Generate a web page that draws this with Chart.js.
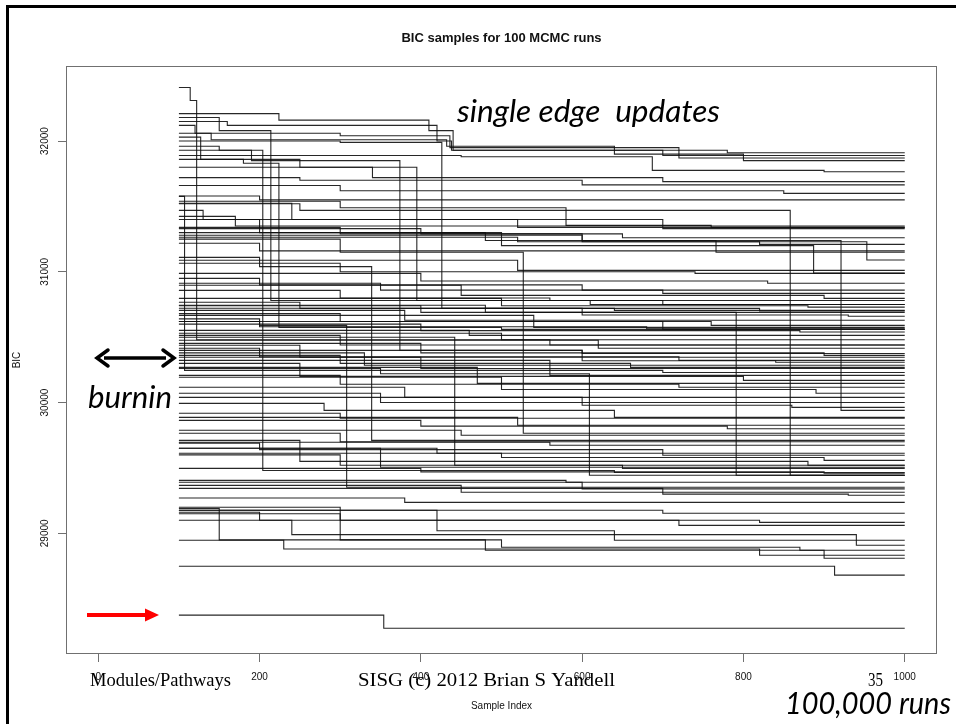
<!DOCTYPE html>
<html>
<head>
<meta charset="utf-8">
<title>BIC samples for 100 MCMC runs</title>
<script src="https://cdn.jsdelivr.net/npm/chart.js@4.4.1/dist/chart.umd.min.js"></script>
<style>
  html, body { margin: 0; padding: 0; background: #fff; }
  canvas { display: block; }
</style>
</head>
<body>
<canvas id="bic" width="956" height="724"></canvas>
<script>
// axis ticks
var xTicks = [0, 200, 400, 600, 800, 1000];
var yTicks = [29000, 30000, 31000, 32000];
var lastSample = 1000;

// one entry per MCMC run: [sample index, BIC] where the chain moves to a new level
var runs = [
  [[100, 32410], [114, 32310], [122, 30480], [560, 30440]],
  [[100, 32210], [224, 32160], [410, 32080], [440, 31930], [780, 31910]],
  [[100, 32180], [150, 32080], [214, 30780], [610, 30750]],
  [[100, 32150], [160, 32120], [420, 32000], [438, 31930], [700, 31890]],
  [[100, 32120], [120, 32060], [300, 32040], [436, 31950], [720, 31870]],
  [[100, 32060], [140, 32010], [432, 31960], [640, 31900], [800, 31850]],
  [[100, 32030], [127, 31860], [250, 31800], [395, 30780], [700, 30750]],
  [[100, 31930], [190, 31850], [374, 30400], [600, 30375]],
  [[100, 32000], [300, 31990], [426, 30720], [820, 30700]],
  [[100, 31860], [180, 31830], [224, 30575], [500, 30560]],
  [[100, 31960], [150, 31930], [204, 29480], [640, 29465]],
  [[100, 31890], [450, 31880], [687, 31776], [900, 31765]],
  [[100, 31800], [340, 31720], [700, 31690]],
  [[100, 31720], [250, 31700], [600, 31665]],
  [[100, 31660], [300, 31620], [850, 31600]],
  [[100, 31580], [200, 31550]],
  [[100, 31540], [300, 31490], [580, 31355], [760, 31340]],
  [[100, 31520], [250, 31470], [858, 29444]],
  [[100, 31524], [240, 31400], [520, 31340]],
  [[100, 31470], [130, 31400], [700, 31330]],
  [[100, 31424], [170, 31350]],
  [[100, 31400], [200, 31300], [480, 31240], [921, 29940]],
  [[100, 31330], [400, 31290], [600, 31240], [766, 31150]],
  [[100, 31300], [500, 31200], [887, 30990]],
  [[100, 31280], [600, 31230], [953, 31090]],
  [[100, 31250], [300, 31150], [527, 29765]],
  [[100, 31340], [300, 31290], [650, 31260]],
  [[100, 31264], [520, 31230], [820, 31210]],
  [[100, 31218], [200, 31160]],
  [[100, 31577], [107, 30246], [700, 30230]],
  [[100, 31110], [200, 31040], [339, 29711]],
  [[100, 30620], [200, 30590], [308, 29352]],
  [[100, 30500], [442, 29520]],
  [[100, 30260], [350, 30220], [609, 29444]],
  [[100, 30740], [400, 30690], [791, 29444]],
  [[100, 31088], [520, 31011]],
  [[100, 31065], [300, 31000], [740, 30988]],
  [[100, 30988], [400, 30930], [830, 30912]],
  [[100, 30950], [200, 30900], [600, 30860]],
  [[100, 30912], [350, 30860], [700, 30835]],
  [[100, 30897], [450, 30820], [900, 30797]],
  [[100, 30858], [300, 30800], [560, 30780]],
  [[100, 30797], [500, 30740], [880, 30730]],
  [[100, 30767], [250, 30720], [640, 30705]],
  [[100, 30744], [480, 30690]],
  [[100, 30721], [600, 30670], [930, 30660]],
  [[100, 30705], [380, 30630]],
  [[100, 30680], [300, 30620], [760, 30590]],
  [[100, 30667], [540, 30575]],
  [[100, 30640], [200, 30580], [680, 30565]],
  [[100, 30620], [700, 30560]],
  [[100, 30600], [400, 30550], [870, 30540]],
  [[100, 30552], [460, 30514]],
  [[100, 30530], [500, 30480]],
  [[100, 30514], [300, 30440]],
  [[100, 30476], [620, 30415]],
  [[100, 30453], [400, 30380], [900, 30361]],
  [[100, 30438], [250, 30346]],
  [[100, 30415], [200, 30350], [720, 30323]],
  [[100, 30399], [600, 30320], [840, 30308]],
  [[100, 30380], [330, 30285]],
  [[100, 30361], [300, 30300], [660, 30269]],
  [[100, 30346], [400, 30260]],
  [[100, 30323], [560, 30208]],
  [[100, 30300], [250, 30200], [800, 30170]],
  [[100, 30269], [470, 30147]],
  [[100, 30208], [300, 30140], [720, 30117]],
  [[100, 30193], [500, 30100], [890, 30071]],
  [[100, 30117], [380, 30040]],
  [[100, 30071], [350, 30000]],
  [[100, 30040], [600, 29980], [860, 29963]],
  [[100, 29994], [280, 29940], [640, 29887]],
  [[100, 29918], [300, 29880]],
  [[100, 29887], [520, 29826]],
  [[100, 29864], [400, 29820], [780, 29800]],
  [[100, 29788], [450, 29750]],
  [[100, 29765], [300, 29700]],
  [[100, 29696], [560, 29673]],
  [[100, 29650], [420, 29612]],
  [[100, 29612], [500, 29580], [900, 29558]],
  [[100, 29690], [200, 29640], [700, 29597]],
  [[100, 29711], [250, 29550], [880, 29520]],
  [[100, 29650], [350, 29505]],
  [[100, 29600], [300, 29520], [650, 29497]],
  [[100, 29497], [400, 29470], [900, 29459]],
  [[100, 29405], [580, 29390]],
  [[100, 29390], [600, 29340]],
  [[100, 29367], [450, 29314]],
  [[100, 29344], [700, 29300], [930, 29291]],
  [[100, 29270], [380, 29237]],
  [[100, 29176], [700, 29153]],
  [[100, 29161], [200, 29100], [820, 29084]],
  [[100, 29199], [300, 29100], [720, 29061]],
  [[100, 29176], [420, 29020], [640, 28947]],
  [[100, 29100], [240, 28990], [940, 28909]],
  [[100, 29150], [300, 28950], [500, 28893], [870, 28870]],
  [[100, 28947], [230, 28880], [820, 28832]],
  [[100, 29190], [150, 28950], [480, 28870], [900, 28809]],
  [[100, 28748], [913, 28680]],
  [[100, 28374], [354, 28274]]
];

var datasets = runs.map(function (run) {
  var pts = run.map(function (p) { return { x: p[0], y: p[1] }; });
  // hold the last level out to the final sample
  pts.push({ x: lastSample, y: run[run.length - 1][1] });
  return {
    data: pts,
    stepped: true,
    borderColor: 'rgba(15,15,15,0.9)',
    borderWidth: 1.1,
    pointRadius: 0,
    fill: false
  };
});

function arrowHead(ctx, x, y, dir, len, half) {
  ctx.beginPath();
  ctx.moveTo(x, y);
  ctx.lineTo(x - dir * len, y - half);
  ctx.lineTo(x - dir * len, y + half);
  ctx.closePath();
  ctx.fill();
}

// text squeezed or stretched to a given width
function fitText(ctx, str, x, y, width) {
  var w = ctx.measureText(str).width;
  ctx.save();
  ctx.translate(x, y);
  ctx.scale(width / w, 1);
  ctx.fillText(str, 0, 0);
  ctx.restore();
}

var slideDecor = {
  id: 'slideDecor',
  beforeDraw: function (chart) {
    var ctx = chart.ctx;
    ctx.save();
    ctx.fillStyle = '#fff';
    ctx.fillRect(0, 0, chart.width, chart.height);
    // slide frame
    ctx.fillStyle = '#000';
    ctx.fillRect(6, 5, chart.width - 6, 3);
    ctx.fillRect(6, 5, 3, chart.height - 5);
    ctx.restore();
  },
  afterDraw: function (chart) {
    var ctx = chart.ctx;
    var a = chart.chartArea;
    var xs = chart.scales.x, ys = chart.scales.y;
    ctx.save();

    // plot box
    ctx.strokeStyle = '#707070';
    ctx.lineWidth = 1;
    ctx.strokeRect(Math.round(a.left) + 0.5, Math.round(a.top) + 0.5,
      Math.round(a.right - a.left) - 1, Math.round(a.bottom - a.top) - 1);

    // tick labels
    ctx.fillStyle = '#111';
    ctx.font = '10px "Liberation Sans", Arial, sans-serif';
    ctx.textAlign = 'center';
    ctx.textBaseline = 'middle';
    xTicks.forEach(function (v) {
      ctx.fillText(String(v), xs.getPixelForValue(v), 677);
    });
    yTicks.forEach(function (v) {
      ctx.save();
      ctx.translate(45, ys.getPixelForValue(v));
      ctx.rotate(-Math.PI / 2);
      ctx.fillText(String(v), 0, 0);
      ctx.restore();
    });

    // axis titles and main title
    ctx.fillText('Sample Index', (a.left + a.right) / 2, 706);
    ctx.save();
    ctx.translate(17, (a.top + a.bottom) / 2);
    ctx.rotate(-Math.PI / 2);
    ctx.fillText('BIC', 0, 0);
    ctx.restore();
    ctx.font = 'bold 13px "Liberation Sans", Arial, sans-serif';
    ctx.fillText('BIC samples for 100 MCMC runs', (a.left + a.right) / 2, 38);

    // slide annotations
    ctx.fillStyle = '#000';
    ctx.textAlign = 'left';
    ctx.textBaseline = 'alphabetic';
    ctx.font = 'italic 30px Lato, "Open Sans", sans-serif';
    fitText(ctx, 'single edge  updates', 457, 122, 263);
    fitText(ctx, 'burnin', 88, 408, 84);
    fitText(ctx, '100,000 runs', 785, 714, 166);

    ctx.font = '18px "Liberation Serif", "Times New Roman", serif';
    fitText(ctx, 'Modules/Pathways', 90, 686, 141);
    fitText(ctx, 'SISG (c) 2012 Brian S Yandell', 358, 686, 257);
    fitText(ctx, '35', 868, 686, 15);

    // burnin double arrow
    ctx.strokeStyle = '#000';
    ctx.lineWidth = 3.5;
    ctx.beginPath();
    ctx.moveTo(104, 358);
    ctx.lineTo(166, 358);
    ctx.stroke();
    ctx.lineCap = 'round';
    ctx.beginPath();
    ctx.moveTo(108, 350); ctx.lineTo(97, 358); ctx.lineTo(108, 366);
    ctx.moveTo(163, 350); ctx.lineTo(174, 358); ctx.lineTo(163, 366);
    ctx.stroke();

    // red arrow
    ctx.strokeStyle = '#f00';
    ctx.fillStyle = '#f00';
    ctx.lineWidth = 4;
    ctx.lineCap = 'butt';
    ctx.beginPath();
    ctx.moveTo(87, 615);
    ctx.lineTo(146, 615);
    ctx.stroke();
    arrowHead(ctx, 159, 615, 1, 14, 6.5);

    ctx.restore();
  }
};

new Chart(document.getElementById('bic').getContext('2d'), {
  type: 'line',
  data: { datasets: datasets },
  options: {
    responsive: false,
    animation: false,
    events: [],
    layout: { padding: { left: 0, top: 66, right: 19, bottom: 0 } },
    plugins: {
      legend: { display: false },
      title: { display: false },
      tooltip: { enabled: false }
    },
    scales: {
      x: {
        type: 'linear',
        min: -40,
        max: 1040,
        afterFit: function (s) { s.height = 70; },
        afterBuildTicks: function (s) {
          s.ticks = xTicks.map(function (v) { return { value: v }; });
        },
        border: { display: false },
        grid: { drawOnChartArea: false, drawTicks: true, tickLength: 8, color: '#707070' },
        ticks: { display: false }
      },
      y: {
        type: 'linear',
        min: 28077,
        max: 32574,
        afterFit: function (s) { s.width = 66; },
        afterBuildTicks: function (s) {
          s.ticks = yTicks.map(function (v) { return { value: v }; });
        },
        border: { display: false },
        grid: { drawOnChartArea: false, drawTicks: true, tickLength: 8, color: '#707070' },
        ticks: { display: false }
      }
    }
  },
  plugins: [slideDecor]
});
</script>
</body>
</html>
